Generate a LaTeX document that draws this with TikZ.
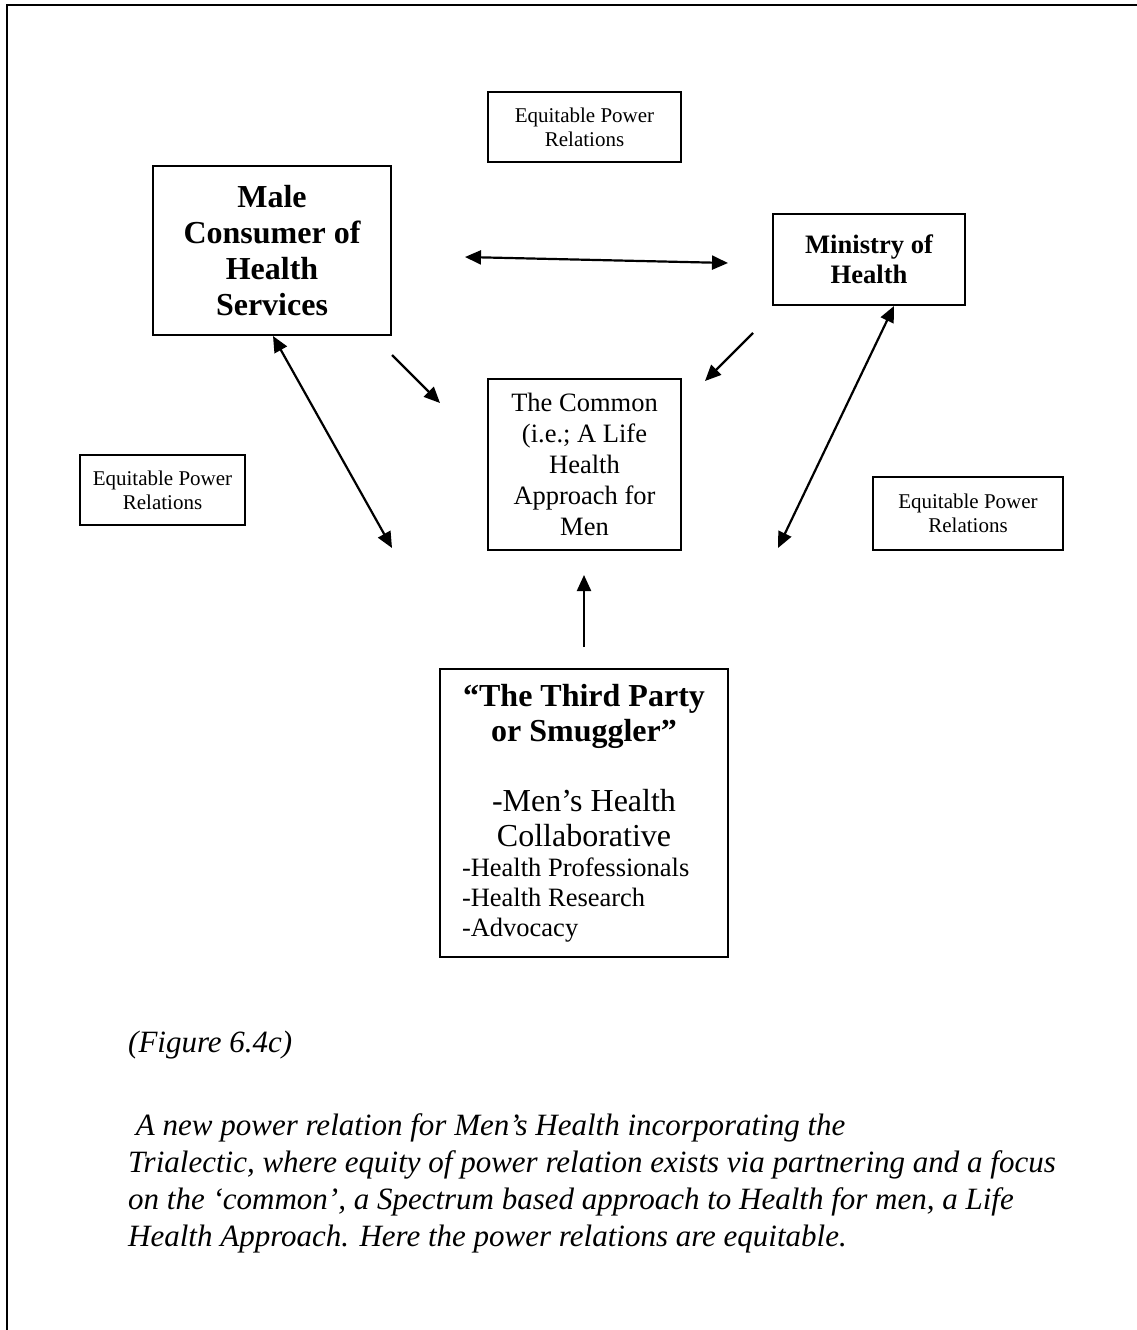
\documentclass[tikz,border=0pt]{standalone}
\usepackage{fontspec}
\setmainfont{Liberation Serif}
\usetikzlibrary{arrows.meta}

\begin{document}
\begin{tikzpicture}[x=1pt, y=-1pt,
      party/.style={rectangle, draw, line width=1.8pt, align=center, inner sep=0pt},
      relation/.style={rectangle, draw, line width=1.8pt, align=center, inner sep=0pt, font=\fontsize{21}{24}\selectfont},
      caption/.style={anchor=base west, inner sep=0pt, font=\itshape\fontsize{31}{37}\selectfont},
      link/.style={line width=2.2pt, -{Triangle[length=16pt,width=14pt]}},
      mutual/.style={line width=2.2pt, {Triangle[length=16pt,width=14pt]}-{Triangle[length=16pt,width=14pt]}}]
  \useasboundingbox (0,0) rectangle (1137,1330);
  \draw[line width=2.5pt] (7,1330) -- (7,5) -- (1137,5);
  % the parties
  \node[party, minimum width=238pt, minimum height=169pt, font=\bfseries\fontsize{32}{36}\selectfont](consumer) at (272,250.5){Male\\Consumer of\\Health\\Services};
  \node[party, minimum width=192pt, minimum height=91pt, font=\bfseries\fontsize{26.6}{30}\selectfont](ministry) at (869,259.5){Ministry of\\Health};
  \node[party, minimum width=193pt, minimum height=171pt, font=\fontsize{26.5}{31}\selectfont](common) at (584.5,464.5){The Common\\(i.e.; A Life\\Health\\Approach for\\Men};
  \node[party, minimum width=288pt, minimum height=288pt, text width=244pt, align=left](third) at (584,813){%
    \spaceskip=0pt \xspaceskip=0pt
    {\centering\bfseries\fontsize{32}{35}\selectfont “The Third Party\\or Smuggler”\\[35pt]\mdseries -Men’s Health\\Collaborative\par}%
    {\raggedright\fontsize{26.5}{30}\selectfont -Health Professionals\\-Health Research\\-Advocacy\par}};
  % the relations
  \node[relation, minimum width=193pt, minimum height=70pt](reltop) at (584.5,127){Equitable Power\\Relations};
  \node[relation, minimum width=165pt, minimum height=70pt](relleft) at (162.5,490){Equitable Power\\Relations};
  \node[relation, minimum width=190pt, minimum height=73pt](relright) at (968,513.5){Equitable Power\\Relations};
  % arrow ends
  \coordinate(a1) at (465,257);
  \coordinate(a2) at (728,263);
  \coordinate(b1) at (392,355);
  \coordinate(b2) at (440,403);
  \coordinate(c1) at (753,333);
  \coordinate(c2) at (705,381);
  \coordinate(d1) at (273,336);
  \coordinate(d2) at (392,548);
  \coordinate(e1) at (894,306);
  \coordinate(e2) at (778,548);
  \coordinate(f1) at (584,647);
  \coordinate(f2) at (584,575);
  \draw[mutual] (a1) -- (a2);
  \draw[link] (b1) -- (b2);
  \draw[link] (c1) -- (c2);
  \draw[mutual] (d1) -- (d2);
  \draw[mutual] (e1) -- (e2);
  \draw[link] (f1) -- (f2);
  % caption
  \node[caption](figno) at (128,1052){(Figure 6.4c)};
  \node[caption](line1) at (128,1135){\ A new power relation for Men’s Health incorporating the};
  \node[caption](line2) at (128,1172){Trialectic, where equity of power relation exists via partnering and a focus};
  \node[caption](line3) at (128,1209){on the ‘common’, a Spectrum based approach to Health for men, a Life};
  \node[caption](line4) at (128,1246){Health Approach. Here the power relations are equitable.};
\end{tikzpicture}
\end{document}
